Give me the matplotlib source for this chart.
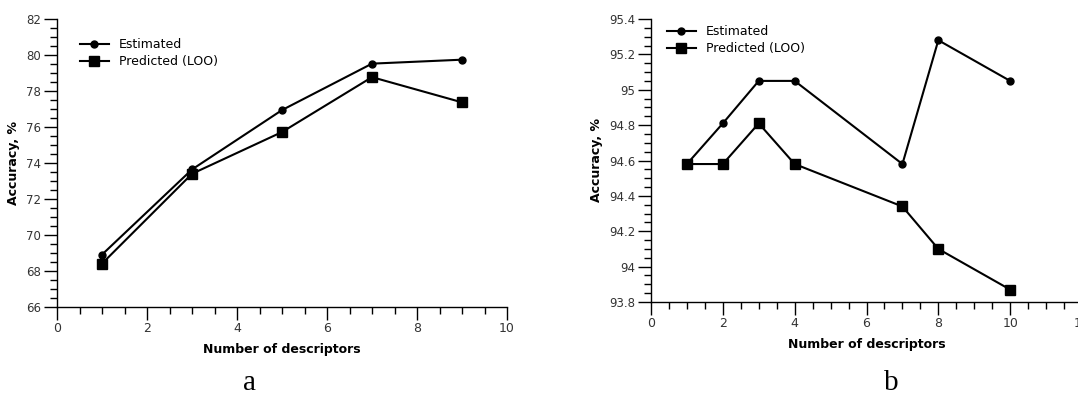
import numpy as np
import matplotlib
matplotlib.use('Agg')
import matplotlib.pyplot as plt
from matplotlib.ticker import MultipleLocator, FormatStrFormatter

# panel a
x_a = [1, 3, 5, 7, 9]
est_a = [68.91, 73.64, 76.94, 79.52, 79.74]
pred_a = [68.41, 73.40, 75.72, 78.77, 77.37]

# panel b
x_b = [1, 2, 3, 4, 7, 8, 10]
est_b = [94.58, 94.81, 95.05, 95.05, 94.58, 95.28, 95.05]
pred_b = [94.58, 94.58, 94.81, 94.58, 94.34, 94.10, 93.87]

W, H = 1078, 398
NARROW = ['Liberation Sans Narrow', 'DejaVu Sans']
fig = plt.figure(figsize=(W / 100, H / 100), dpi=100)


def px_axes(x0, x1, ytop, ybot):
    return fig.add_axes([x0 / W, 1 - ybot / H, (x1 - x0) / W, (ybot - ytop) / H])


def style(ax, xlim, ylim, ymaj, ymin, xticks):
    ax.set_xlim(*xlim)
    ax.set_ylim(*ylim)
    for s in ('top', 'right'):
        ax.spines[s].set_visible(False)
    for s in ('left', 'bottom'):
        ax.spines[s].set_linewidth(1.0)
    ax.set_xticks(xticks)
    ax.xaxis.set_minor_locator(MultipleLocator(0.5))
    ax.yaxis.set_major_locator(MultipleLocator(ymaj))
    ax.yaxis.set_minor_locator(MultipleLocator(ymin))
    ax.yaxis.set_major_formatter(FormatStrFormatter('%g'))
    ax.tick_params(which='major', direction='out', length=9.5, width=1, colors='black',
                   labelsize=8.5, pad=2)
    ax.tick_params(which='minor', direction='out', length=5, width=1)
    ax.tick_params(axis='both', labelcolor='#333333')
    ax.tick_params(axis='x', pad=1)
    for lab in ax.get_xticklabels():
        lab.set_family(NARROW)
        lab.set_fontsize(9)
    ax.set_xlabel('Number of descriptors', fontsize=9, fontweight='bold',
                  family=NARROW, labelpad=6)
    ax.set_ylabel('Accuracy, %', fontsize=9, fontweight='bold', labelpad=4)


def draw(ax, x, est, pred, legend_anchor):
    ax.plot(x, est, color='black', lw=1.5, marker='o', ms=5, label='Estimated')
    ax.plot(x, pred, color='black', lw=1.5, marker='s', ms=6.5, label='Predicted (LOO)')
    ax.legend(loc='upper left', bbox_to_anchor=legend_anchor, frameon=False, fontsize=9,
              handlelength=2.3, handletextpad=0.8, labelspacing=0.3, borderaxespad=0)


ax1 = px_axes(57, 507, 19, 307)
draw(ax1, x_a, est_a, pred_a, (0.04, 0.95))
style(ax1, (0, 10), (66, 82), 2, 0.5, [0, 2, 4, 6, 8, 10])

ax2 = px_axes(651, 1082, 19, 302)
draw(ax2, x_b, est_b, pred_b, (0.025, 0.995))
style(ax2, (0, 12), (93.8, 95.4), 0.2, 0.05, [0, 2, 4, 6, 8, 10, 12])

fig.text(250 / W, 1.5 / H, 'a', ha='center', va='bottom', fontsize=21, family='Liberation Serif')
fig.text(891 / W, 1.5 / H, 'b', ha='center', va='bottom', fontsize=21, family='Liberation Serif')

fig.savefig('out.png', dpi=100)
